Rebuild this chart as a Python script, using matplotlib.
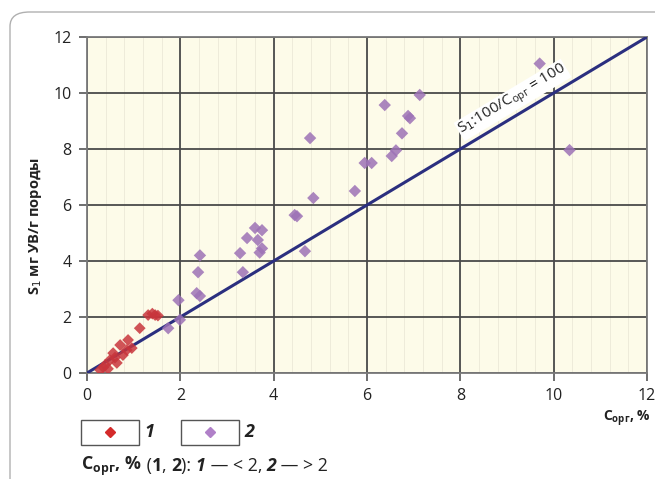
import matplotlib
matplotlib.use("Agg")
import matplotlib.pyplot as plt
import matplotlib.transforms as mtrans
from matplotlib.patches import FancyBboxPatch, Rectangle
from matplotlib.lines import Line2D
import numpy as np

plt.rcParams['font.family'] = ['Open Sans', 'DejaVu Sans']

# Series 1: C_org < 2
s1_x = [0.28, 0.35, 0.39, 0.45, 0.49, 0.56, 0.60, 0.64, 0.71, 0.77, 0.85, 0.88, 0.96, 1.13, 1.31, 1.40, 1.46, 1.52]
s1_y = [0.11, 0.20, 0.29, 0.15, 0.46, 0.71, 0.55, 0.36, 1.00, 0.64, 0.82, 1.18, 0.89, 1.60, 2.07, 2.12, 2.07, 2.05]

# Series 2: C_org > 2
s2_x = [1.74, 1.96, 1.99, 2.35, 2.42, 2.38, 2.42, 3.28, 3.34, 3.43, 3.60, 3.66, 3.75, 3.75, 3.70,
        4.45, 4.50, 4.67, 4.78, 4.85, 5.74, 5.95, 6.10, 6.38, 6.53, 6.62, 6.75, 6.88, 6.92, 7.13,
        9.70, 10.34]
s2_y = [1.60, 2.60, 1.90, 2.85, 2.75, 3.60, 4.20, 4.28, 3.60, 4.82, 5.18, 4.75, 5.10, 4.45, 4.30,
        5.64, 5.60, 4.35, 8.39, 6.25, 6.50, 7.50, 7.50, 9.57, 7.75, 7.95, 8.56, 9.18, 9.10, 9.93,
        11.05, 7.96]

ref_x = [0, 12]
ref_y = [0, 12]

xticks = [0, 2, 4, 6, 8, 10, 12]
yticks = [0, 2, 4, 6, 8, 10, 12]

W, H = 655, 479
fig = plt.figure(figsize=(W / 100, H / 100), dpi=100)
fig.patch.set_facecolor('white')

# rounded frame
frame = FancyBboxPatch((10 / W, -0.05), 1.2, 1.0 - 12 / H + 0.05,
                       boxstyle="round,pad=0,rounding_size=0.03",
                       transform=fig.transFigure, fill=False,
                       edgecolor='#b0b0b0', linewidth=1.0, zorder=0)
fig.patches.append(frame)

ax = fig.add_axes([87 / W, 1 - 373 / H, 560 / W, 336 / H])
ax.set_facecolor('#fdfbe9')
ax.set_xlim(0, 12)
ax.set_ylim(0, 12)
ax.set_xticks(xticks)
ax.set_yticks(yticks)
ax.set_xticklabels([str(t) for t in xticks], fontsize=11.5, color='#222222')
ax.set_yticklabels([str(t) for t in yticks], fontsize=11.5, color='#222222')

shift = mtrans.ScaledTranslation(-5 / 100, 0, fig.dpi_scale_trans)
for lab in ax.get_xticklabels():
    lab.set_transform(lab.get_transform() + shift)

# faint minor verticals
for xm in np.arange(0.4, 12, 0.4):
    ax.axvline(xm, color='#ece8d8', linewidth=0.6, zorder=0)

ax.grid(True, color='#4a4a4a', linewidth=1.3, zorder=1)
for s in ax.spines.values():
    s.set_color('#7a7a7a')
    s.set_linewidth(1.3)
ax.tick_params(axis='both', length=6, width=1.2, color='#555555', pad=5)

ax.plot(ref_x, ref_y, color='#2b2f7f', linewidth=2.2, zorder=3)

ax.scatter(s2_x, s2_y, marker='D', s=40, color='#9d72b6', alpha=0.85,
           edgecolors='none', zorder=4)
ax.scatter(s1_x, s1_y, marker='D', s=36, color='#c8353c', alpha=0.85,
           edgecolors='none', zorder=5)

ax.text(9.12, 9.75, r'S$_1$:100/C$_{\mathregular{орг}}$ = 100', rotation=31,
        rotation_mode='anchor', ha='center', va='center', fontsize=11,
        color='#222222', zorder=6,
        bbox=dict(facecolor='white', edgecolor='none', pad=0.5))

fig.text(36 / W, 1 - 226 / H, r'S$_1$ мг УВ/г породы', rotation=90,
         ha='center', va='center', fontsize=10.5, fontweight='bold', color='#222222')

fig.text(651 / W, 1 - 419 / H, r'C$_{\mathregular{орг}}$, %', ha='right', va='center',
         fontsize=10, fontweight='bold', color='#222222')

# legend boxes
for x0, col, lab in [(81, '#d42a2a', '1'), (181, '#b080c8', '2')]:
    fig.patches.append(Rectangle((x0 / W, 1 - 445 / H), 58 / W, 25 / H,
                                 transform=fig.transFigure, fill=False,
                                 edgecolor='#555555', linewidth=1.0))
    fig.lines.append(Line2D([(x0 + 29) / W], [1 - 432 / H], marker='D',
                            markersize=5, color=col, linestyle='none',
                            transform=fig.transFigure))
    fig.text((x0 + 63) / W, 1 - 432 / H, lab, ha='left', va='center',
             fontsize=13, fontweight='bold', style='italic', color='#222222')

# bottom note, pieced together
pieces = [
    (r'C$_{\mathregular{орг}}$, %', 'bold', 'normal'),
    (' (', 'normal', 'normal'),
    ('1', 'bold', 'normal'),
    (', ', 'normal', 'normal'),
    ('2', 'bold', 'normal'),
    ('): ', 'normal', 'normal'),
    ('1', 'bold', 'italic'),
    (' — < 2, ', 'normal', 'normal'),
    ('2', 'bold', 'italic'),
    (' — > 2', 'normal', 'normal'),
]
renderer = fig.canvas.get_renderer()
xpos = 81
for txt, wt, st in pieces:
    t = fig.text(xpos / W, 1 - 466 / H, txt, ha='left', va='center',
                 fontsize=12.8, fontweight=wt, style=st, color='#222222')
    bb = t.get_window_extent(renderer=renderer)
    xpos += bb.width

fig.savefig('out.png', dpi=100, facecolor='white')
